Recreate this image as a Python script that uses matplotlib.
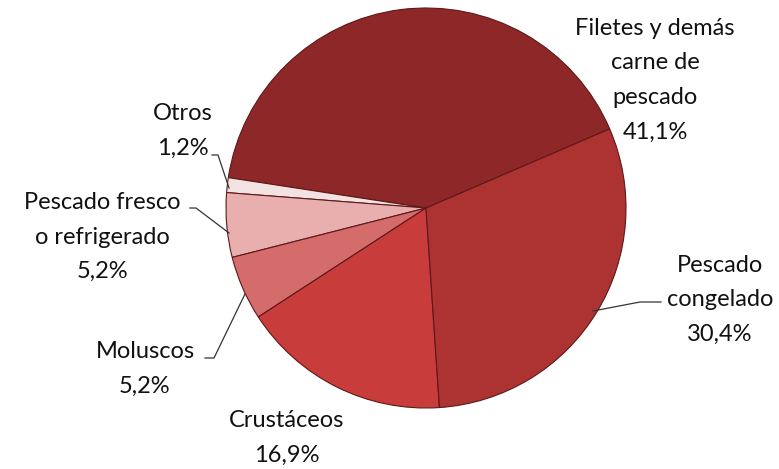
import matplotlib
matplotlib.use("Agg")
import matplotlib.pyplot as plt

# data
labels = ["Filetes y demás\ncarne de\npescado", "Otros", "Pescado fresco\no refrigerado",
          "Moluscos", "Crustáceos", "Pescado\ncongelado"]
values = [41.1, 1.2, 5.2, 5.2, 16.9, 30.4]
colors = ["#8E2828", "#F3E2E2", "#E9AFAF", "#D46C6C", "#C83C3C", "#AD3232"]

plt.rcParams['font.family'] = ['Lato', 'DejaVu Sans']

W, H = 779, 469
fig = plt.figure(figsize=(W / 100, H / 100), dpi=100)
cx, cy, r = 426, 208, 200
ax = fig.add_axes([(cx - r) / W, (H - cy - r) / H, 2 * r / W, 2 * r / H])

ax.pie(values, colors=colors, startangle=23.3, counterclock=True, radius=1,
       wedgeprops=dict(edgecolor="#5E1818", linewidth=0.8))
ax.set_xlim(-1, 1)
ax.set_ylim(-1, 1)
ax.set_aspect("equal")
ax.axis("off")


def px(x, y):
    # pixel position in the image -> data coords of the pie axes
    return (x - cx) / r, (cy - y) / r


# label positions (pixel centres of the text blocks)
label_pos = [(655, 80), (183, 131), (102, 237), (145, 369), (287, 438), (720, 300)]
for lab, val, (x, y) in zip(labels, values, label_pos):
    txt = "{}\n{}%".format(lab, ("%.1f" % val).replace(".", ","))
    ax.text(*px(x, y), txt, ha="center", va="center", fontsize=17,
            linespacing=1.8, color="#111111", clip_on=False)

# leader lines
leaders = [
    [(212, 155), (218, 155), (229, 188)],
    [(190, 208), (196, 208), (229, 233)],
    [(205, 358), (214, 358), (245, 294)],
    [(593, 311), (640, 302), (661, 302)],
]
for pts in leaders:
    xs, ys = zip(*[px(x, y) for x, y in pts])
    ax.plot(xs, ys, color="#333333", lw=0.9, clip_on=False)

fig.savefig("out.png", dpi=100, facecolor="white")
